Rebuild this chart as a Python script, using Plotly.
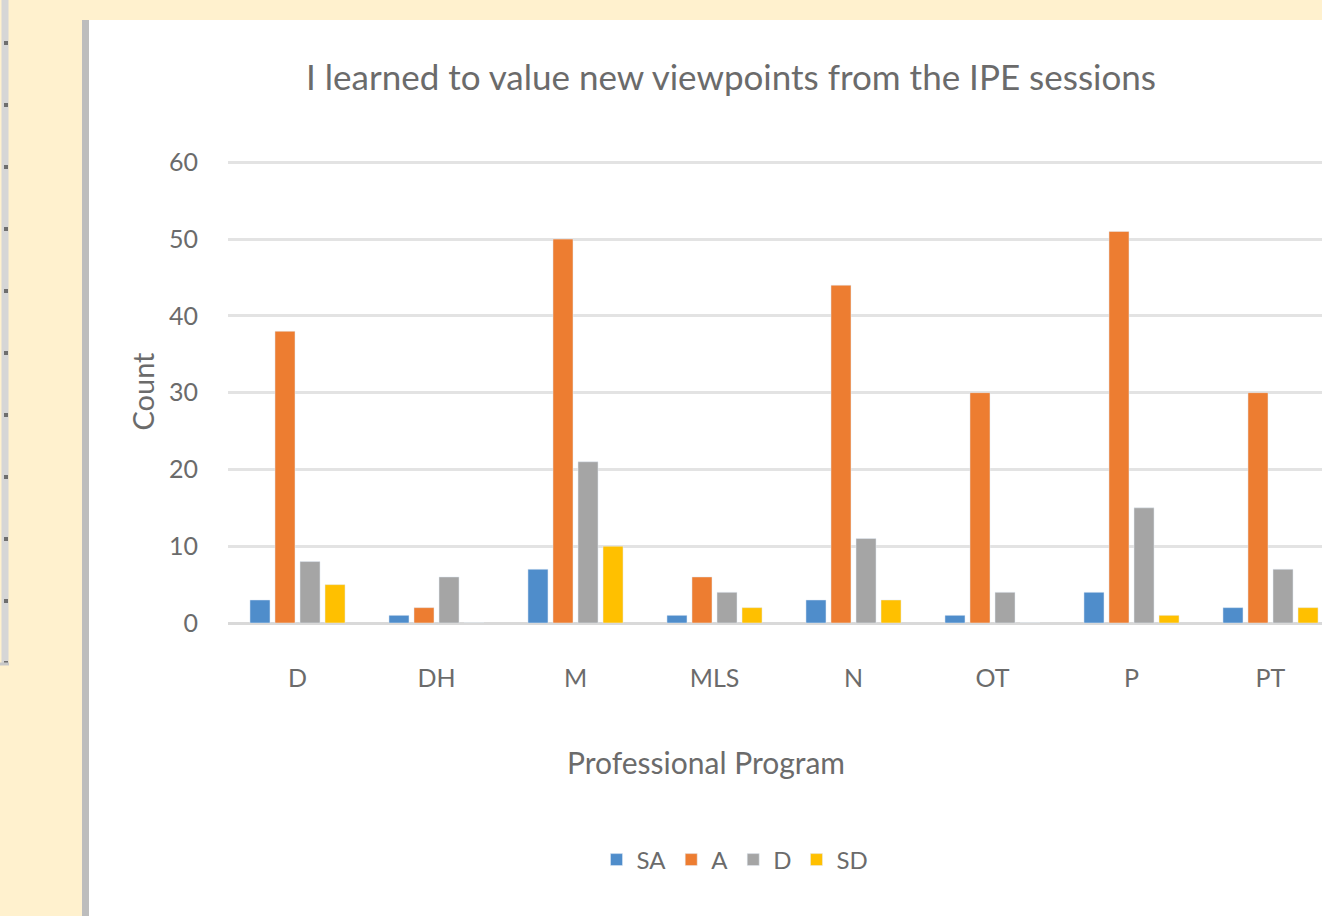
import plotly.graph_objects as go

programs = ["D", "DH", "M", "MLS", "N", "OT", "P", "PT"]
sa = [3, 1, 7, 1, 3, 1, 4, 2]
a = [38, 2, 50, 6, 44, 30, 51, 30]
d = [8, 6, 21, 4, 11, 4, 15, 7]
sd = [5, 0, 10, 2, 3, 0, 1, 2]
y_ticks = [0, 10, 20, 30, 40, 50, 60]

series = [("SA", sa, "#4F8DCB"), ("A", a, "#ED7D31"), ("D", d, "#A5A5A5"), ("SD", sd, "#FFC000")]

FONT = "Lato, Liberation Sans, sans-serif"
TXT = "#6b6b6b"

W, H = 1322, 916
L, R, T, B = 228, 0, 160, 293

def px(x):
    return (x - L) / (W - L - R)

def py(y):
    return (H - B - y) / (H - T - B)

fig = go.Figure()
for name, vals, col in series:
    fig.add_trace(go.Bar(x=programs, y=vals, name=name, marker_color=col))

fig.update_layout(
    width=W, height=H,
    margin=dict(l=L, r=R, t=T, b=B),
    paper_bgcolor="#FFF1CE",
    plot_bgcolor="white",
    barmode="group",
    bargap=0.28,
    bargroupgap=0.2,
    font=dict(family=FONT, color=TXT),
    title=dict(text="I learned to value new viewpoints from the IPE sessions",
               x=px(731), xref="paper", xanchor="center",
               y=1 - 78 / H, yanchor="middle",
               font=dict(size=35, color=TXT, family=FONT)),
    showlegend=True,
    legend=dict(orientation="h", x=px(735), xanchor="center", y=py(860), yanchor="middle",
                font=dict(size=24, color=TXT), bgcolor="rgba(0,0,0,0)", itemwidth=30),
    annotations=[
        dict(text="Professional Program", xref="paper", yref="paper", x=px(706), y=py(762),
             xanchor="center", yanchor="middle", showarrow=False,
             font=dict(size=30, color=TXT, family=FONT)),
    ],
    shapes=[
        dict(type="rect", xref="paper", yref="paper", x0=px(82), x1=1.0, y0=py(916), y1=py(20),
             fillcolor="white", line=dict(width=0), layer="below"),
        dict(type="rect", xref="paper", yref="paper", x0=px(82), x1=px(89), y0=py(916), y1=py(20),
             fillcolor="#BDBDBD", line=dict(width=0), layer="below"),
        dict(type="line", xref="paper", yref="paper", x0=px(5), x1=px(5), y0=py(665), y1=py(0),
             line=dict(color="#D6D6D6", width=7), layer="below"),
        dict(type="line", xref="paper", yref="paper", x0=px(6), x1=px(6), y0=py(665), y1=py(0),
             line=dict(color="#6E6E6E", width=4, dash="4px,58px"), layer="below"),
        dict(type="line", xref="paper", yref="paper", x0=px(0), x1=px(9), y0=py(664), y1=py(664),
             line=dict(color="#C8C8C8", width=3), layer="below"),
    ],
)

fig.update_xaxes(
    range=[-0.5, (W - L - R) / 139 - 0.5],
    showgrid=False, showline=False, zeroline=False,
    ticks="outside", ticklen=33, tickcolor="rgba(0,0,0,0)",
    tickfont=dict(size=25, color=TXT),
)
fig.update_yaxes(
    range=[0, 60.3], tickvals=y_ticks,
    showgrid=True, gridcolor="#E3E3E3", gridwidth=3,
    zeroline=True, zerolinecolor="#D9D9D9", zerolinewidth=3,
    ticks="outside", ticklen=24, tickcolor="rgba(0,0,0,0)",
    tickfont=dict(size=25, color=TXT),
    title=dict(text="Count", font=dict(size=29, color=TXT), standoff=5),
)

fig.write_html("out.html", config={"displayModeBar": False},
               post_script="document.body.style.margin='0';document.body.style.overflow='hidden';")
